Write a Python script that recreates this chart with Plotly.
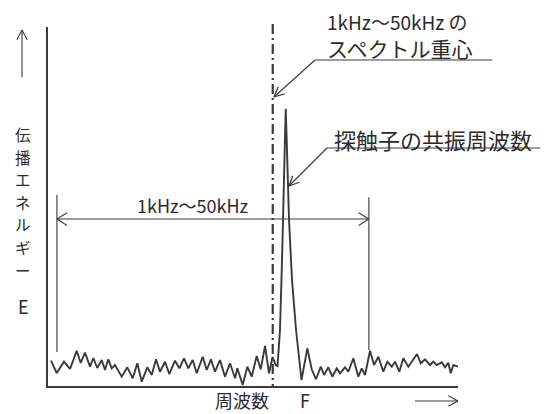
import math
import plotly.graph_objects as go

# ---------------- data ----------------
freq_khz = [0.07, 0.97, 2.11, 3.06, 4.11, 4.74, 5.41, 6.20, 6.72, 7.34, 8.04, 8.55, 9.07, 9.61,
            10.12, 11.18, 12.06, 12.91, 13.63, 14.32, 15.20, 15.89, 16.57, 17.19, 17.98, 18.65,
            19.55, 20.23, 20.96, 21.64, 22.33, 22.96, 23.90, 24.53, 25.20, 25.83, 26.62, 27.40,
            28.19, 28.98, 29.34, 30.18, 30.91, 31.60, 32.38, 33.01, 33.69, 34.32, 34.87, 35.37,
            35.65, 36.04, 36.36, 36.67, 36.94, 37.14, 37.46, 37.93, 38.56, 39.42, 40.33, 41.02,
            41.70, 42.44, 42.96, 43.63, 44.26, 44.95, 45.47, 46.25, 46.77, 47.56, 48.34, 48.88,
            49.40, 50.18, 50.81, 51.49, 52.27, 52.90, 53.59, 54.11, 54.78, 55.41, 56.20, 57.56,
            58.15, 58.82, 59.61, 60.12, 60.66, 61.44, 61.96, 62.48, 62.86, 63.27, 64.00]
energy = [7.05, 3.62, 6.77, 4.74, 9.83, 6.41, 9.28, 5.38, 7.80, 5.01, 7.24, 4.46, 7.44, 4.93,
          5.85, 2.59, 5.21, 2.14, 6.32, 1.20, 5.21, 3.06, 7.44, 3.98, 6.77, 3.34,
          7.05, 4.93, 7.72, 4.93, 7.24, 3.54, 8.16, 4.46, 7.44, 3.98, 7.24, 2.59,
          6.32, 2.14, 4.93, 0.28, 5.38, 2.59, 8.36, 4.65, 11.14, 3.54, 8.08, 5.85,
          5.57, 15.6, 35.1, 57.4, 77.2, 65.7, 46.2, 29.5, 15.6, 1.67, 10.50, 4.65,
          1.87, 5.38, 3.06, 5.21, 2.59, 4.93, 3.54, 5.21, 3.98, 7.72, 2.59, 4.93,
          3.06, 9.83, 5.85, 8.16, 3.98, 6.77, 5.38, 6.77, 3.98, 7.72, 5.38, 8.91,
          6.32, 7.44, 5.85, 6.77, 5.85, 6.60, 5.21, 6.49, 3.54, 5.85, 5.38]

band_start_khz = 1
band_end_khz = 50
centroid_khz = 34.9
band_arrow_level = 46.5
band_left_span = [9.5, 53.2]
band_right_span = [10.0, 52.6]

band_label = "1kHz～50kHz"
centroid_label_1 = "1kHz～50kHz の"
centroid_label_2 = "スペクトル重心"
resonance_label = "探触子の共振周波数"
y_label_chars = ["伝", "播", "エ", "ネ", "ル", "ギ", "ー"]
y_label_symbol = "E"
x_label = "周波数"
x_label_symbol = "F"

# ---------------- layout geometry ----------------
W, H = 544, 414
L, R, T, B = 48, 458, 27, 386
X0, X1 = -0.4, 64.0
Y0, Y1 = 0.0, 100.0
INK = "#3a3a3a"
TXT = "#2b2b2b"
FONT = "Noto Sans CJK JP"


def px_from_x(f):
    return L + (f - X0) / (X1 - X0) * (R - L)


def py_from_y(e):
    return B - (e - Y0) / (Y1 - Y0) * (B - T)


def paper_x(px):
    return (px - L) / (R - L)


def paper_y(py):
    return (B - py) / (B - T)


shapes = []


def seg(x0, y0, x1, y1, width=1.3, color=INK, dash=None):
    d = dict(type="line", xref="paper", yref="paper",
             x0=paper_x(x0), y0=paper_y(y0), x1=paper_x(x1), y1=paper_y(y1),
             line=dict(color=color, width=width))
    if dash:
        d["line"]["dash"] = dash
    shapes.append(d)


def head(tip, tail, length=11, angle=30, width=1.3):
    dx, dy = tail[0] - tip[0], tail[1] - tip[1]
    d = math.hypot(dx, dy)
    ux, uy = dx / d, dy / d
    for s in (1, -1):
        a = math.radians(angle * s)
        rx = ux * math.cos(a) - uy * math.sin(a)
        ry = ux * math.sin(a) + uy * math.cos(a)
        seg(tip[0], tip[1], tip[0] + rx * length, tip[1] + ry * length, width=width)


fig = go.Figure()
fig.add_trace(go.Scatter(x=freq_khz, y=energy, mode="lines",
                         line=dict(color=INK, width=1.9), hoverinfo="skip"))

# spectral centroid dash-dot line
cx = px_from_x(centroid_khz)
seg(cx, 24, cx, B, width=2.2, color=INK, dash="10px,4px,2px,4px")

# band double arrow
bx0, bx1 = px_from_x(band_start_khz), px_from_x(band_end_khz)
by = py_from_y(band_arrow_level)
seg(bx0, by, bx1, by, width=1.1)
head((bx0, by), (bx1, by), length=12, angle=32, width=1.1)
head((bx1, by), (bx0, by), length=12, angle=32, width=1.1)
seg(bx0, py_from_y(band_left_span[0]), bx0, py_from_y(band_left_span[1]), width=1.1)
seg(bx1, py_from_y(band_right_span[0]), bx1, py_from_y(band_right_span[1]), width=1.1)

# callout for centroid
seg(315, 60, 492, 60, width=1.1)
seg(315, 60, 274, 97, width=1.1)
head((274, 97), (315, 60), length=11, angle=25, width=1.3)

# callout for resonance
seg(327, 148, 540, 148, width=1.1)
seg(327, 148, 289, 186, width=1.1)
head((289, 186), (327, 148), length=11, angle=25, width=1.3)

# axis direction arrows
seg(22, 30, 22, 77, width=1.1)
head((22, 30), (22, 77), length=11, angle=28, width=1.1)
seg(415, 401, 458, 401, width=1.1)
head((458, 401), (415, 401), length=11, angle=28, width=1.1)

annotations = []


def txt(text, px, py, size, xanchor="left", yanchor="middle"):
    annotations.append(dict(text=text, x=paper_x(px), y=paper_y(py), xref="paper", yref="paper",
                            xanchor=xanchor, yanchor=yanchor, showarrow=False, borderpad=0,
                            font=dict(family=FONT, size=size, color=TXT)))


txt(band_label, 193, 205, 18, xanchor="center")
txt(centroid_label_1, 326, 21, 19)
txt(centroid_label_2, 326, 48, 21)
txt(resonance_label, 333, 139, 22)
# vertical y-axis label, one character per annotation
for i, ch in enumerate(y_label_chars):
    txt(ch, 23, 134 + i * 22.6, 15.5, xanchor="center")
txt(y_label_symbol, 23, 306, 18, xanchor="center")
txt(x_label, 242, 400, 18, xanchor="center")
txt(x_label_symbol, 305, 400, 18, xanchor="center")

fig.update_layout(
    width=W, height=H,
    margin=dict(l=L, r=W - R, t=T, b=H - B, pad=0),
    paper_bgcolor="white", plot_bgcolor="white",
    showlegend=False,
    xaxis=dict(range=[X0, X1], showgrid=False, zeroline=False, showticklabels=False,
               ticks="", showline=True, linecolor=INK, linewidth=2.2, fixedrange=True),
    yaxis=dict(range=[Y0, Y1], showgrid=False, zeroline=False, showticklabels=False,
               ticks="", showline=True, linecolor=INK, linewidth=2.2, fixedrange=True),
    shapes=shapes,
    annotations=annotations,
)

fig.write_html(
    "out.html",
    config={"displayModeBar": False, "staticPlot": True},
    post_script="document.body.style.margin='0';document.body.style.overflow='hidden';",
)
